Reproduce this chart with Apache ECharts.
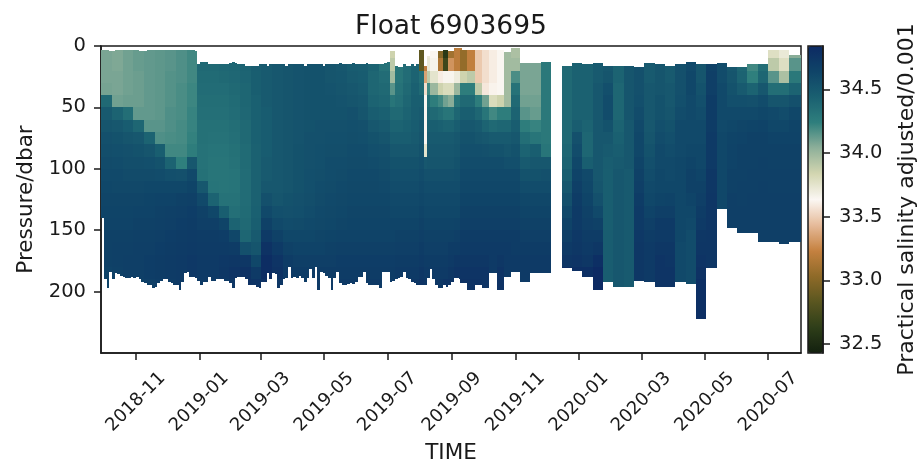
<!DOCTYPE html>
<html><head><meta charset="utf-8">
<script src="https://cdn.jsdelivr.net/npm/echarts@6/dist/echarts.min.js"></script>
<style>html,body{margin:0;padding:0;background:#fff}#c{width:922px;height:466px}</style>
</head><body><div id="c"></div>
<script>
const chartTitle = 'Float 6903695';
const timeTicks = ['2018-11','2019-01','2019-03','2019-05','2019-07','2019-09','2019-11','2020-01','2020-03','2020-05','2020-07'];
const pressureTicks = [0,50,100,150,200];
const salinityTicks = [32.5,33.0,33.5,34.0,34.5];
const salinityRange = [32.43,34.84];
const paletteStops = ['#13200f','#2e3e19','#5a5620','#8f6a28','#c58140','#e6bb9a','#fbf7f3','#d3d6b0','#8fb09a','#2f7f7d','#1a6071','#0f4468','#0d2a63'];

// time window, in days after 2018-11-01
const axisStartDay = -33.5, axisEndDay = 639.5;
// frequent profiles (2.567-day cycle)
const frequentStartDay = -33.3, frequentCycleDays = 2.567;
const frequentTop = [3,3,3,4,4,3,3,3,3,3,3,3,3,3,4,4,4,3,3,3,3,3,3,3,3,3,3,3,3,3,3,3,3,3,3,4,
15,13,13,13,15,15,15,15,15,15,15,15,14,13,14,15,15,15,16,16,16,16,16,15,15,15,16,15,15,15,15,15,15,16,15,15,15,15,15,15,16,15,15,15,15,15,15,16,15,15,
15,15,15,14,15,15,15,15,14,15,15,15,15,14,15,15,15,15,15,15,14,13,
4,4,16,17,17,15,16,16,15,16,15,3,3,16,8,4,4,4,4,4,3,3,4,4,2,2,2];
const frequentBottom = [140,190,197,184,190,185,186,187,188,189,189,188,189,188,190,192,193,195,195,197,196,193,191,190,190,192,193,195,195,199,192,185,184,188,188,189,191,195,192,192,188,191,191,190,190,190,191,191,193,197,189,188,188,188,190,195,195,195,196,197,192,192,185,190,185,186,197,195,190,189,180,189,188,189,187,189,192,189,182,189,180,199,184,185,187,189,199,189,
184,193,195,195,194,193,194,192,188,188,184,193,195,195,195,195,197,184,184,184,192,191,190,189,188,184,189,190,192,193,195,195,195,195,189,182,190,195,197,197,195,196,195,192,189,189,190];
// how many frequent profiles share each salinity row below
const frequentGroups = [4,4,4,4,4,4,4,4,4,4,4,4,4,4,4,4,4,4,4,4,4,4,4,4,4,4,4,2,3,3,3,2,1,1,3,2,2,2,3];
// sparse profiles: start and end days of each, then tops and bottoms
const sparseEdgesBeforeGap = [311.5,318.3,326,332.7,339.4,347,354.3,361,369.1,379.3,389.6,399.2];
const sparseEdgesAfterGap = [409.5,419.4,429.3,439.2,449.2,459.1,469,478.9,488.9,498.8,508.7,518.6,528.5,538.4,548.4,558.3,568.2,578.1,588,597.9,608,618.2,628.2,639.5];
const sparseTop = [3,3,3,3,3,3,5,2,14,14,13, 16,14,15,14,16,16,16,17,14,15,16,15,13,15,15,14,17,17,15,15,3,3,7];
const sparseBottom = [193,199,195,197,185,199,188,184,192,185,185, 181,183,188,199,192,196,196,191,192,196,196,192,194,222,181,133,148,152,152,160,160,161,160];

const pressureBandDbar = 10;
// salinity per group (rows) and pressure band of 10 dbar (0-10 ... 190+)
const salinity = [
[34.08,34.08,34.08,34.09,34.38,34.48,34.52,34.55,34.57,34.59,34.60,34.62,34.63,34.64,34.65,34.66,34.66,34.66,34.65,34.64],
[34.07,34.07,34.08,34.08,34.10,34.42,34.50,34.54,34.56,34.58,34.60,34.61,34.63,34.64,34.65,34.66,34.67,34.67,34.66,34.65],
[34.10,34.10,34.10,34.10,34.11,34.35,34.47,34.52,34.55,34.57,34.59,34.61,34.63,34.64,34.65,34.66,34.67,34.68,34.68,34.66],
[34.12,34.12,34.11,34.11,34.11,34.13,34.40,34.50,34.54,34.57,34.59,34.61,34.63,34.65,34.66,34.67,34.68,34.68,34.68,34.66],
[34.13,34.13,34.13,34.13,34.13,34.13,34.15,34.42,34.52,34.56,34.59,34.62,34.64,34.65,34.66,34.67,34.68,34.69,34.69,34.68],
[34.14,34.14,34.14,34.14,34.14,34.14,34.15,34.17,34.45,34.54,34.58,34.62,34.65,34.66,34.67,34.68,34.69,34.70,34.70,34.69],
[34.15,34.15,34.16,34.16,34.16,34.17,34.17,34.18,34.20,34.42,34.56,34.62,34.65,34.67,34.68,34.69,34.70,34.71,34.71,34.70],
[34.17,34.17,34.17,34.18,34.18,34.18,34.19,34.19,34.20,34.24,34.55,34.62,34.66,34.68,34.69,34.70,34.71,34.72,34.72,34.72],
[34.20,34.20,34.20,34.21,34.21,34.22,34.22,34.23,34.25,34.50,34.60,34.64,34.67,34.69,34.70,34.71,34.72,34.73,34.73,34.72],
[34.40,34.38,34.37,34.36,34.35,34.34,34.33,34.33,34.32,34.32,34.33,34.50,34.60,34.66,34.68,34.70,34.71,34.72,34.72,34.72],
[34.40,34.38,34.37,34.36,34.35,34.34,34.33,34.32,34.31,34.30,34.30,34.31,34.42,34.62,34.68,34.70,34.71,34.72,34.72,34.72],
[34.40,34.39,34.38,34.36,34.35,34.34,34.33,34.32,34.31,34.30,34.30,34.30,34.32,34.45,34.64,34.69,34.71,34.73,34.74,34.72],
[34.42,34.40,34.39,34.38,34.37,34.36,34.35,34.34,34.33,34.32,34.31,34.31,34.32,34.34,34.42,34.62,34.70,34.74,34.76,34.74],
[34.42,34.42,34.41,34.40,34.40,34.39,34.38,34.38,34.37,34.37,34.36,34.36,34.36,34.37,34.38,34.40,34.55,34.74,34.78,34.78],
[34.46,34.46,34.45,34.45,34.44,34.44,34.44,34.44,34.43,34.43,34.43,34.43,34.43,34.44,34.45,34.48,34.52,34.62,34.72,34.76],
[34.48,34.48,34.48,34.48,34.48,34.47,34.47,34.47,34.47,34.48,34.48,34.50,34.55,34.60,34.66,34.72,34.78,34.82,34.82,34.78],
[34.50,34.50,34.50,34.50,34.50,34.50,34.50,34.50,34.50,34.50,34.50,34.50,34.52,34.56,34.60,34.66,34.72,34.76,34.78,34.74],
[34.52,34.52,34.52,34.52,34.52,34.52,34.52,34.52,34.52,34.52,34.52,34.52,34.54,34.55,34.58,34.62,34.66,34.70,34.72,34.72],
[34.53,34.53,34.53,34.53,34.53,34.53,34.53,34.53,34.54,34.54,34.54,34.54,34.55,34.56,34.59,34.62,34.65,34.68,34.70,34.70],
[34.54,34.54,34.54,34.54,34.54,34.54,34.54,34.55,34.55,34.55,34.56,34.56,34.57,34.58,34.60,34.62,34.65,34.68,34.70,34.70],
[34.54,34.54,34.54,34.54,34.54,34.54,34.55,34.55,34.56,34.56,34.57,34.58,34.59,34.60,34.61,34.63,34.65,34.68,34.70,34.72],
[34.52,34.52,34.52,34.53,34.54,34.54,34.55,34.56,34.57,34.58,34.58,34.59,34.60,34.61,34.62,34.64,34.66,34.68,34.70,34.72],
[34.50,34.50,34.51,34.52,34.53,34.54,34.55,34.56,34.57,34.58,34.59,34.60,34.61,34.62,34.63,34.65,34.67,34.69,34.70,34.72],
[34.46,34.47,34.48,34.50,34.52,34.55,34.56,34.57,34.58,34.59,34.60,34.61,34.62,34.63,34.64,34.65,34.67,34.69,34.70,34.72],
[34.44,34.46,34.47,34.48,34.50,34.52,34.55,34.56,34.58,34.59,34.60,34.61,34.62,34.63,34.64,34.65,34.67,34.69,34.70,34.72],
[34.40,34.42,34.40,34.40,34.42,34.46,34.50,34.54,34.56,34.58,34.60,34.61,34.62,34.63,34.64,34.65,34.67,34.69,34.70,34.72],
[34.30,34.32,34.36,34.38,34.40,34.44,34.48,34.52,34.55,34.57,34.59,34.60,34.62,34.63,34.64,34.65,34.67,34.69,34.70,34.72],
[33.85,33.90,33.98,34.15,34.30,34.38,34.42,34.46,34.50,34.54,34.56,34.58,34.60,34.62,34.64,34.65,34.67,34.69,34.70,34.72],
[34.30,34.30,34.30,34.32,34.34,34.38,34.42,34.46,34.50,34.54,34.56,34.58,34.60,34.62,34.64,34.66,34.68,34.70,34.72,34.74],
[34.36,34.36,34.36,34.38,34.40,34.42,34.44,34.46,34.50,34.54,34.56,34.58,34.60,34.62,34.64,34.66,34.68,34.70,34.72,34.74],
[34.42,34.42,34.42,34.44,34.45,34.46,34.47,34.48,34.50,34.54,34.56,34.58,34.60,34.62,34.64,34.66,34.68,34.70,34.72,34.74],
[32.85,32.85,34.35,34.38,34.45,34.48,34.50,34.52,34.54,34.56,34.58,34.60,34.62,34.64,34.66,34.68,34.70,34.72,34.74,34.76],
[33.20,33.20,33.35,33.55,33.64,33.64,33.64,33.64,33.75,34.50,34.55,34.58,34.60,34.62,34.64,34.66,34.68,34.70,34.72,34.74],
[33.70,33.72,33.90,34.20,34.35,34.40,34.44,34.48,34.50,34.52,34.55,34.58,34.60,34.62,34.64,34.66,34.68,34.70,34.72,34.74],
[33.64,33.66,33.75,34.00,34.25,34.38,34.45,34.48,34.50,34.52,34.55,34.58,34.60,34.62,34.64,34.66,34.68,34.70,34.72,34.74],
[33.00,33.15,33.60,33.85,34.20,34.35,34.44,34.48,34.50,34.52,34.55,34.58,34.60,34.62,34.64,34.66,34.68,34.70,34.72,34.74],
[32.60,32.70,33.65,33.80,34.10,34.30,34.42,34.48,34.50,34.52,34.55,34.58,34.60,34.62,34.64,34.66,34.68,34.70,34.72,34.76],
[33.10,33.30,33.65,33.80,34.05,34.30,34.42,34.48,34.50,34.52,34.55,34.58,34.60,34.62,34.64,34.66,34.70,34.72,34.74,34.76],
[33.20,33.20,33.70,34.00,34.30,34.40,34.46,34.50,34.52,34.54,34.56,34.58,34.60,34.62,34.65,34.68,34.70,34.74,34.76,34.76],
// sparse profiles before the gap
[33.05,33.05,33.85,34.25,34.38,34.45,34.50,34.54,34.56,34.58,34.60,34.62,34.64,34.66,34.68,34.70,34.72,34.74,34.76,34.78],
[33.22,33.22,33.90,34.25,34.38,34.45,34.50,34.54,34.56,34.58,34.60,34.62,34.64,34.66,34.68,34.70,34.72,34.74,34.76,34.78],
[33.48,33.48,33.48,33.90,34.25,34.40,34.48,34.52,34.56,34.58,34.60,34.62,34.64,34.66,34.68,34.70,34.72,34.74,34.76,34.78],
[33.55,33.55,33.55,33.58,34.10,34.30,34.42,34.50,34.55,34.58,34.60,34.62,34.64,34.66,34.68,34.70,34.72,34.74,34.76,34.76],
[33.60,33.60,33.60,33.62,33.80,34.20,34.38,34.48,34.54,34.58,34.60,34.62,34.64,34.66,34.68,34.70,34.72,34.72,34.72,34.72],
[33.63,33.63,33.64,33.64,33.85,34.25,34.40,34.48,34.54,34.58,34.60,34.62,34.64,34.66,34.68,34.70,34.72,34.74,34.76,34.78],
[33.98,33.98,33.98,33.98,33.98,34.25,34.40,34.48,34.52,34.56,34.60,34.62,34.64,34.66,34.68,34.70,34.72,34.72,34.72,34.72],
[33.95,33.98,34.18,34.32,34.38,34.42,34.46,34.50,34.54,34.56,34.60,34.62,34.64,34.66,34.68,34.70,34.70,34.72,34.72,34.72],
[34.05,34.08,34.08,34.08,34.10,34.15,34.25,34.35,34.42,34.48,34.54,34.58,34.62,34.64,34.66,34.68,34.70,34.72,34.72,34.72],
[34.08,34.08,34.08,34.08,34.10,34.12,34.22,34.30,34.45,34.50,34.54,34.58,34.62,34.64,34.66,34.68,34.70,34.72,34.72,34.72],
[34.28,34.28,34.28,34.28,34.28,34.28,34.28,34.28,34.30,34.50,34.55,34.58,34.62,34.64,34.66,34.68,34.70,34.72,34.72,34.72],
// sparse profiles after the gap
[34.38,34.38,34.38,34.38,34.38,34.38,34.38,34.38,34.40,34.42,34.45,34.50,34.55,34.60,34.65,34.68,34.72,34.75,34.82,34.84],
[34.43,34.43,34.43,34.43,34.43,34.43,34.46,34.55,34.58,34.62,34.65,34.68,34.70,34.72,34.72,34.73,34.74,34.76,34.80,34.80],
[34.43,34.43,34.43,34.43,34.43,34.43,34.42,34.40,34.40,34.45,34.60,34.62,34.64,34.66,34.68,34.70,34.72,34.74,34.80,34.80],
[34.48,34.48,34.48,34.50,34.50,34.50,34.50,34.50,34.50,34.50,34.50,34.52,34.55,34.60,34.66,34.70,34.74,34.80,34.84,34.84],
[34.50,34.50,34.52,34.56,34.58,34.58,34.54,34.50,34.48,34.46,34.45,34.45,34.45,34.45,34.45,34.46,34.46,34.46,34.46,34.46],
[34.42,34.42,34.42,34.40,34.40,34.40,34.42,34.44,34.46,34.48,34.50,34.50,34.50,34.50,34.50,34.50,34.50,34.50,34.50,34.50],
[34.52,34.52,34.52,34.52,34.52,34.52,34.50,34.50,34.50,34.50,34.48,34.48,34.48,34.48,34.48,34.48,34.48,34.48,34.48,34.48],
[34.55,34.55,34.55,34.55,34.56,34.58,34.60,34.62,34.62,34.64,34.66,34.68,34.70,34.72,34.72,34.73,34.74,34.74,34.74,34.74],
[34.48,34.48,34.48,34.50,34.50,34.50,34.50,34.52,34.54,34.56,34.58,34.60,34.62,34.65,34.68,34.70,34.72,34.72,34.72,34.72],
[34.52,34.52,34.52,34.52,34.54,34.54,34.56,34.58,34.60,34.60,34.62,34.62,34.64,34.68,34.72,34.72,34.74,34.76,34.76,34.76],
[34.48,34.48,34.48,34.50,34.50,34.52,34.54,34.56,34.58,34.60,34.60,34.62,34.65,34.68,34.72,34.72,34.74,34.75,34.76,34.76],
[34.55,34.55,34.55,34.55,34.56,34.58,34.60,34.60,34.60,34.62,34.62,34.62,34.62,34.62,34.62,34.62,34.60,34.60,34.60,34.60],
[34.60,34.60,34.62,34.62,34.60,34.60,34.60,34.60,34.62,34.64,34.66,34.66,34.64,34.62,34.60,34.58,34.58,34.58,34.58,34.58],
[34.52,34.52,34.52,34.54,34.56,34.58,34.60,34.60,34.62,34.62,34.64,34.66,34.68,34.70,34.72,34.74,34.75,34.76,34.78,34.80],
[34.65,34.66,34.68,34.68,34.70,34.70,34.70,34.72,34.72,34.72,34.74,34.74,34.75,34.75,34.75,34.75,34.75,34.75,34.75,34.75],
[34.58,34.58,34.58,34.60,34.60,34.60,34.60,34.62,34.62,34.62,34.62,34.62,34.62,34.62,34.62,34.62,34.62,34.62,34.62,34.62],
[34.50,34.50,34.52,34.54,34.56,34.60,34.62,34.64,34.65,34.65,34.66,34.66,34.68,34.68,34.68,34.68,34.68,34.68,34.68,34.68],
[34.40,34.40,34.42,34.48,34.56,34.60,34.63,34.65,34.66,34.66,34.66,34.67,34.67,34.68,34.68,34.68,34.68,34.68,34.68,34.68],
[34.20,34.20,34.24,34.42,34.55,34.60,34.64,34.66,34.66,34.66,34.67,34.67,34.68,34.68,34.68,34.68,34.68,34.68,34.68,34.68],
[34.35,34.35,34.40,34.50,34.58,34.62,34.65,34.66,34.66,34.67,34.67,34.68,34.68,34.68,34.68,34.68,34.68,34.68,34.68,34.68],
[33.78,33.90,34.15,34.35,34.52,34.60,34.62,34.65,34.66,34.66,34.67,34.67,34.68,34.68,34.68,34.68,34.68,34.68,34.68,34.68],
[33.72,33.78,33.95,34.35,34.52,34.58,34.62,34.65,34.66,34.66,34.67,34.67,34.68,34.68,34.68,34.68,34.68,34.68,34.68,34.68],
[34.05,34.15,34.28,34.42,34.55,34.62,34.64,34.65,34.66,34.66,34.67,34.67,34.68,34.68,34.68,34.68,34.68,34.68,34.68,34.68]
];

const DAY = 86400000;
const EPOCH = Date.UTC(2018,10,1);
const dayToTime = d => EPOCH + d * DAY;
const tickToTime = s => Date.UTC(+s.slice(0,4), +s.slice(5,7) - 1, 1);

function addCells(cells, d0, d1, top, bottom, row) {
  const nBands = row.length;
  for (let b = 0; b < nBands; b++) {
    const p0 = Math.max(top, b * pressureBandDbar);
    const p1 = b === nBands - 1 ? bottom : Math.min(bottom, (b + 1) * pressureBandDbar);
    if (p1 > p0) cells.push([dayToTime(d0), dayToTime(d1), p0, p1, row[b]]);
  }
}
const cells = [];
let profile = 0;
frequentGroups.forEach((count, g) => {
  for (let k = 0; k < count; k++, profile++) {
    const d0 = frequentStartDay + profile * frequentCycleDays;
    addCells(cells, d0, d0 + frequentCycleDays, frequentTop[profile], frequentBottom[profile], salinity[g]);
  }
});
let sparseIndex = 0;
[sparseEdgesBeforeGap, sparseEdgesAfterGap].forEach(edges => {
  for (let i = 0; i + 1 < edges.length; i++, sparseIndex++) {
    addCells(cells, edges[i], edges[i + 1], sparseTop[sparseIndex], sparseBottom[sparseIndex], salinity[frequentGroups.length + sparseIndex]);
  }
});

const font = 'DejaVu Sans';
const ink = '#1a1a1a';
const chart = echarts.init(document.getElementById('c'), null, {renderer:'canvas'});
chart.setOption({
  animation:false, useUTC:true, backgroundColor:'#fff',
  title:{text:chartTitle,left:446,top:9,textAlign:'center',textStyle:{fontFamily:font,fontSize:26.5,fontWeight:'normal',color:ink}},
  grid:[
    {left:101,top:46,width:700,height:307,show:true,borderColor:ink,borderWidth:1.5,backgroundColor:'transparent',outerBoundsMode:'none'},
    {left:808,top:46,width:15,height:307,show:true,borderColor:ink,borderWidth:1.5,backgroundColor:'transparent',outerBoundsMode:'none'}
  ],
  xAxis:[
    {type:'value',gridIndex:0,position:'bottom',min:dayToTime(axisStartDay),max:dayToTime(axisEndDay),name:'TIME',nameLocation:'middle',nameGap:88,
     nameTextStyle:{fontFamily:font,fontSize:21.5,color:ink},
     axisLine:{onZero:false,lineStyle:{color:ink,width:1.5}},
     axisTick:{show:true,length:7,lineStyle:{color:ink,width:1.5},customValues:timeTicks.map(tickToTime)},
     axisLabel:{rotate:45,margin:49,align:'center',verticalAlign:'middle',fontFamily:font,fontSize:18,color:ink,hideOverlap:false,
       customValues:timeTicks.map(tickToTime),
       formatter:v=>{const d=new Date(v);return d.getUTCFullYear()+'-'+String(d.getUTCMonth()+1).padStart(2,'0');}},
     splitLine:{show:false}},
    {type:'value',gridIndex:1,min:0,max:1,show:false}
  ],
  yAxis:[
    {type:'value',gridIndex:0,inverse:true,min:0,max:250,name:'Pressure/dbar',nameLocation:'middle',nameRotate:90,nameGap:63,
     nameTextStyle:{fontFamily:font,fontSize:21.5,color:ink},
     axisLine:{show:true,onZero:false,lineStyle:{color:ink,width:1.5}},
     axisTick:{show:true,length:7,lineStyle:{color:ink,width:1.5},customValues:pressureTicks},
     axisLabel:{margin:15,fontFamily:font,fontSize:19.5,color:ink,customValues:pressureTicks},
     splitLine:{show:false}},
    {type:'value',gridIndex:1,position:'right',min:salinityRange[0],max:salinityRange[1],
     name:'Practical salinity adjusted/0.001',nameLocation:'middle',nameRotate:90,nameGap:73,
     nameTextStyle:{fontFamily:font,fontSize:22,color:ink},
     axisLine:{show:true,onZero:false,lineStyle:{color:ink,width:1.5}},
     axisTick:{show:true,length:7,lineStyle:{color:ink,width:1.5},customValues:salinityTicks},
     axisLabel:{margin:16,fontFamily:font,fontSize:19.5,color:ink,customValues:salinityTicks,formatter:v=>v.toFixed(1)},
     splitLine:{show:false}}
  ],
  visualMap:{type:'continuous',show:true,seriesIndex:0,dimension:4,min:salinityRange[0],max:salinityRange[1],
    left:808,top:46,itemWidth:15,itemHeight:307,padding:0,calculable:false,hoverLink:false,z:-1,
    inRange:{color:paletteStops}},
  series:[{
    type:'custom',xAxisIndex:0,yAxisIndex:0,clip:true,silent:true,
    data:cells,
    encode:{x:[0,1],y:[2,3]},
    renderItem:(params,api)=>{
      const a=api.coord([api.value(0),api.value(2)]);
      const b=api.coord([api.value(1),api.value(3)]);
      const x0=Math.round(a[0]),x1=Math.round(b[0]),y0=Math.round(a[1]),y1=Math.round(b[1]);
      return {type:'rect',shape:{x:x0,y:y0,width:x1-x0,height:y1-y0},style:{fill:api.visual('color')}};
    }
  }]
});
</script></body></html>
